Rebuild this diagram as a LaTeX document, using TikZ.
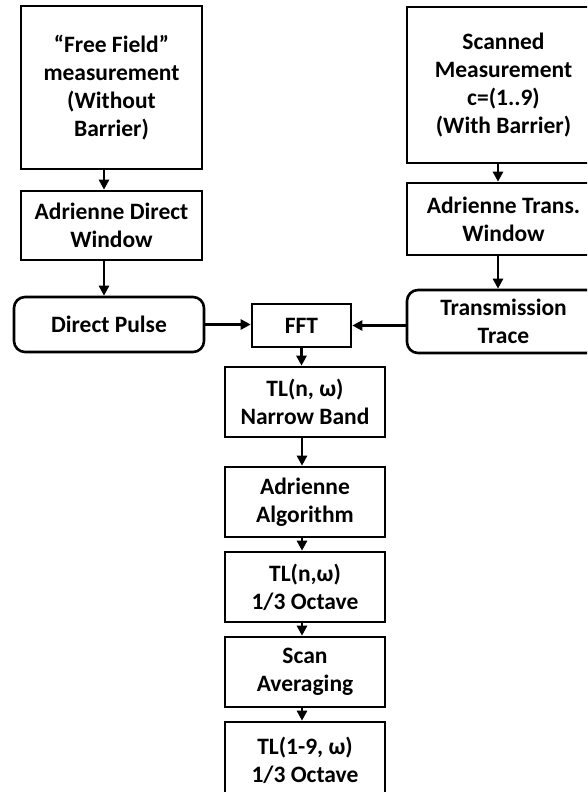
\documentclass[tikz,border=0pt]{standalone}
\usepackage{fontspec}
\setmainfont{Carlito}
\usetikzlibrary{arrows.meta}
\begin{document}
\begin{tikzpicture}[x=1pt,y=-1pt,
  box/.style={draw, line width=2.6pt, inner sep=0pt, align=center,
    font=\bfseries\fontsize{23.5}{28}\selectfont},
  rbox/.style={box, rounded corners=11pt},
  arr/.style={line width=2.6pt, -{Triangle[length=10pt,width=10pt]}}]
\useasboundingbox (0,0) rectangle (587,792);
\begin{scope}
\clip (0,0) rectangle (587,792);
% left column
\node[box, minimum width=181pt, minimum height=163pt] (ff) at (111.5,87.5)
  {“Free Field”\\measurement\\(Without\\Barrier)};
\node[box, minimum width=181pt, minimum height=69pt] (dw) at (111.5,225.5)
  {Adrienne Direct\\Window};
\node[rbox, minimum width=190pt, minimum height=55pt] (dp) at (109,324.5)
  {Direct Pulse};
% right column
\node[box, minimum width=193pt, minimum height=156pt] (sm) at (503.5,85)
  {Scanned\\Measurement\\c=(1..9)\\(With Barrier)};
\node[box, minimum width=193pt, minimum height=72pt] (tw) at (503.5,219)
  {Adrienne Trans.\\Window};
\node[rbox, minimum width=193pt, minimum height=63pt] (tt) at (503.5,321.5)
  {Transmission\\Trace};
% centre column
\node[box, minimum width=99pt, minimum height=43pt] (fft) at (301.5,325.5) {FFT};
\node[box, minimum width=160pt, minimum height=70pt] (nb) at (305,402)
  {TL(n, ω)\\Narrow Band};
\node[box, minimum width=160pt, minimum height=70pt] (aa) at (305,502)
  {Adrienne\\Algorithm};
\node[box, minimum width=160pt, minimum height=70pt] (oc) at (305,587)
  {TL(n,ω)\\1/3 Octave};
\node[box, minimum width=160pt, minimum height=70pt] (sa) at (305,672)
  {Scan\\Averaging};
\node[box, minimum width=160pt, minimum height=76pt] (fin) at (305,760)
  {TL(1-9, ω)\\1/3 Octave};
% connectors
\draw[arr] ([xshift=-7.5pt]ff.south) -- ([xshift=-7.5pt]dw.north);
\draw[arr] ([xshift=-7.5pt]dw.south) -- ([xshift=-5pt]dp.north);
\draw[arr] ([xshift=-5.5pt]sm.south) -- ([xshift=-5.5pt]tw.north);
\draw[arr] ([xshift=-5.5pt]tw.south) -- ([xshift=-5.5pt]tt.north);
\draw[arr] (dp.east) -- (dp.east -| fft.west);
\draw[arr] (tt.west |- fft.east) -- (fft.east);
\draw[arr] (fft.south) -- (fft.south |- nb.north);
\draw[arr] ([xshift=-3pt]nb.south) -- ([xshift=-3pt]aa.north);
\draw[arr] ([xshift=-3pt]aa.south) -- ([xshift=-3pt]oc.north);
\draw[arr] ([xshift=-3pt]oc.south) -- ([xshift=-3pt]sa.north);
\draw[arr] ([xshift=-3pt]sa.south) -- ([xshift=-3pt]fin.north);
\end{scope}
\end{tikzpicture}
\end{document}
